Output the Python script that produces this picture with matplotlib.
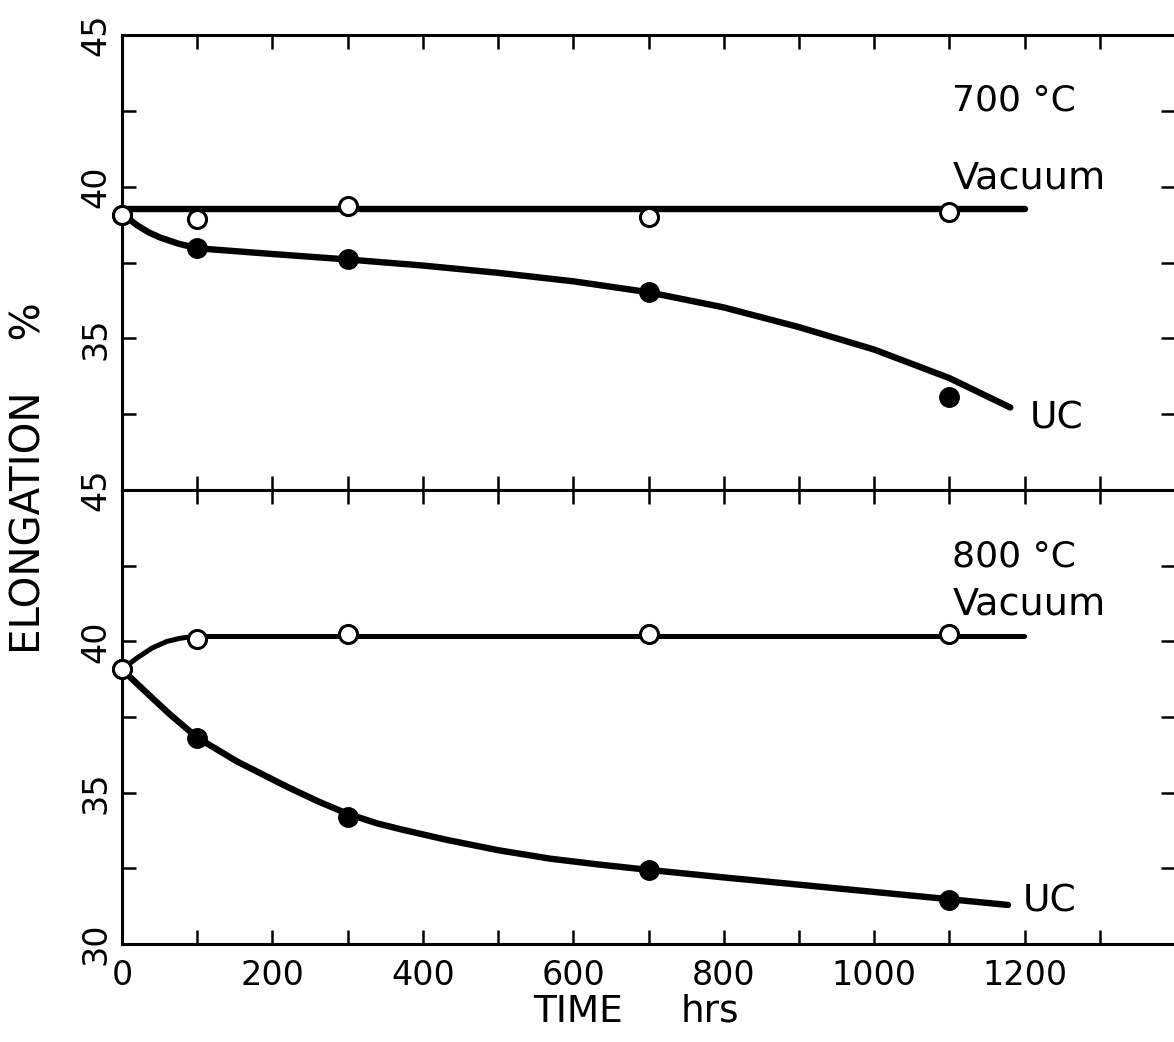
import matplotlib
matplotlib.use('Agg')
import matplotlib.pyplot as plt

# %% Data (elongation %, time in hrs)

# measured points
time_pts = [0, 100, 300, 700, 1100]
vac700 = [39.06, 38.93, 39.36, 38.99, 39.16]
uc700 = [39.06, 37.97, 37.60, 36.52, 33.05]
vac800 = [39.07, 40.07, 40.23, 40.23, 40.23]
uc800 = [39.07, 36.79, 34.20, 32.45, 31.46]

# hand drawn curves
vac700_t = [0, 1200]
vac700_curve = [39.26, 39.26]
uc700_t = [0, 10, 20, 35, 50, 75, 100, 200, 300, 400, 500, 600, 700, 800, 900, 1000, 1100, 1181]
uc700_curve = [39.06, 38.92, 38.73, 38.50, 38.33, 38.12, 37.97, 37.78, 37.60, 37.40, 37.16, 36.88,
               36.52, 36.02, 35.37, 34.63, 33.69, 32.72]

vac800_t = [0, 20, 40, 60, 77, 95, 1200]
vac800_curve = [39.07, 39.45, 39.78, 40.00, 40.10, 40.16, 40.16]
uc800_t = [0, 20, 41, 64, 100, 153, 219, 260, 300, 340, 374, 432, 500, 569, 636, 700,
           800, 900, 1000, 1100, 1178]
uc800_curve = [39.07, 38.60, 38.11, 37.58, 36.82, 36.03, 35.20, 34.72, 34.30, 33.98, 33.77,
               33.44, 33.10, 32.82, 32.62, 32.45, 32.20, 31.96, 31.72, 31.48, 31.29]

xticks = list(range(0, 1400, 100))
xlabels = [str(t) if (t % 200 == 0 and t <= 1200) else '' for t in xticks]

plt.rcParams['font.family'] = 'DejaVu Sans'

fig = plt.figure(figsize=(11.74, 10.42), dpi=100)
W, H = 1174.0, 1042.0
left = 122 / W
width = (1175 - 122) / W
ax1 = fig.add_axes([left, 1 - 490 / H, width, (490 - 35) / H])
ax2 = fig.add_axes([left, 1 - 944 / H, width, (944 - 490) / H])

lw = 4.6
for ax in (ax1, ax2):
    ax.set_xlim(0, 1400)
    ax.set_ylim(30, 45)
    for s in ['left', 'top', 'bottom']:
        ax.spines[s].set_linewidth(2.2)
    ax.spines['right'].set_visible(False)
    ax.set_xticks(xticks)
    ax.tick_params(direction='in', length=10, width=1.8, top=True, right=True,
                   labelsize=24)
    ax.tick_params(axis='y', labelrotation=90, pad=7)
    ax.tick_params(axis='x', pad=11)

# top panel, 700 C
ax1.set_xticklabels([''] * len(xticks))
ax1.set_yticks([32.5, 35, 37.5, 40, 42.5, 45])
ax1.set_yticklabels(['', '35', '', '40', '', '45'], va='center')
ax1.plot(vac700_t, vac700_curve, color='black', lw=lw, solid_capstyle='round')
ax1.plot(uc700_t, uc700_curve, color='black', lw=lw, solid_capstyle='round',
         solid_joinstyle='round')
ax1.plot(time_pts, uc700, 'o', color='black', ms=14, zorder=3, clip_on=False)
ax1.plot(time_pts, vac700, 'o', mfc='white', mec='black', mew=2.2, ms=13, zorder=4,
         clip_on=False)
ax1.text(1104, 42.52, '700 °C', fontsize=26)
ax1.text(1104, 39.95, 'Vacuum', fontsize=27.5)
ax1.text(1207, 32.03, 'UC', fontsize=27)

# bottom panel, 800 C
ax2.set_xticklabels(xlabels)
ax2.set_yticks([30, 32.5, 35, 37.5, 40, 42.5, 45])
ax2.set_yticklabels(['30', '', '35', '', '40', '', '45'], va='center')
ax2.plot(vac800_t, vac800_curve, color='black', lw=3.6, solid_capstyle='round',
         solid_joinstyle='round')
ax2.plot(uc800_t, uc800_curve, color='black', lw=lw, solid_capstyle='round',
         solid_joinstyle='round')
ax2.plot(time_pts, uc800, 'o', color='black', ms=14, zorder=3, clip_on=False)
ax2.plot(time_pts, vac800, 'o', mfc='white', mec='black', mew=2.2, ms=13, zorder=4,
         clip_on=False)
ax2.text(1104, 42.48, '800 °C', fontsize=26)
ax2.text(1104, 40.89, 'Vacuum', fontsize=27.5)
ax2.text(1198, 31.09, 'UC', fontsize=27)

# axis titles
fig.text(30 / W, 1 - 478 / H, 'ELONGATION    %', rotation=90, fontsize=29,
         ha='center', va='center')
fig.text(578 / W, 1 - 1012 / H, 'TIME', fontsize=27, ha='center', va='center')
fig.text(710 / W, 1 - 1012 / H, 'hrs', fontsize=27, ha='center', va='center')

plt.savefig('out.png', dpi=100)
